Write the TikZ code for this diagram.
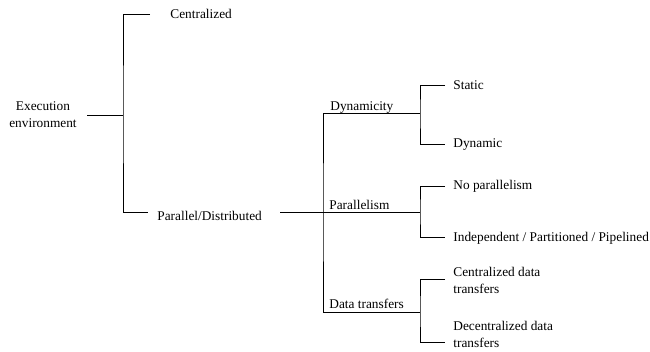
\documentclass[tikz,border=0pt]{standalone}
\usepackage{fontspec}
\setmainfont{Liberation Serif}
\begin{document}
\begin{tikzpicture}[x=0.75pt,y=-0.75pt,line width=0.6pt,
        lbl/.style={inner sep=0pt,font=\fontsize{10}{12.75}\selectfont},
        leaf/.style={lbl,anchor=west,align=left},
        mid/.style={lbl,anchor=base west}]
        \useasboundingbox (0,0) rectangle (650,351);

        \node[lbl,align=center] (exec) at (43,115) {Execution\\environment};
        \node[leaf] (cent) at (170,14) {Centralized}; \node[leaf] (pardist) at (157,216) {Parallel/Distributed};
        \node[mid] (dyn) at (330,110) {Dynamicity}; \node[mid] (par) at (329,209) {Parallelism}; \node[mid] (dat) at (329,308) {Data transfers};
        \node[leaf] (stat) at (453,85) {Static}; \node[leaf] (dynm) at (453,145) {Dynamic};
        \node[leaf] (nopar) at (453,186) {No parallelism}; \node[leaf] (ipp) at (453,238) {Independent / Partitioned / Pipelined};
        \node[leaf] (cdt) at (453,280) {Centralized data\\transfers}; \node[leaf] (ddt) at (453,334) {Decentralized data\\transfers};

        % branch points and stub ends
        \coordinate (e0) at (87,115); \coordinate (b0) at (123,115); \coordinate (c0) at (150,14); \coordinate (c1) at (148,212);
        \coordinate (p0) at (280,212); \coordinate (b1) at (323,212);
        \coordinate (d0) at (420,113); \coordinate (d1) at (420,212); \coordinate (d2) at (420,312);
        \coordinate (t0) at (445,85); \coordinate (t1) at (445,144); \coordinate (t2) at (445,186);
        \coordinate (t3) at (445,237); \coordinate (t4) at (445,279); \coordinate (t5) at (445,342);

        \draw (e0) -- (b0); \draw (c0) -| (b0) |- (c1);
        \draw (p0) -- (d1); \draw (d0) -| (b1) |- (d2);
        \draw (t0) -| (d0) |- (t1); \draw (t2) -| (d1) |- (t3); \draw (t4) -| (d2) |- (t5);
    \end{tikzpicture}
\end{document}
